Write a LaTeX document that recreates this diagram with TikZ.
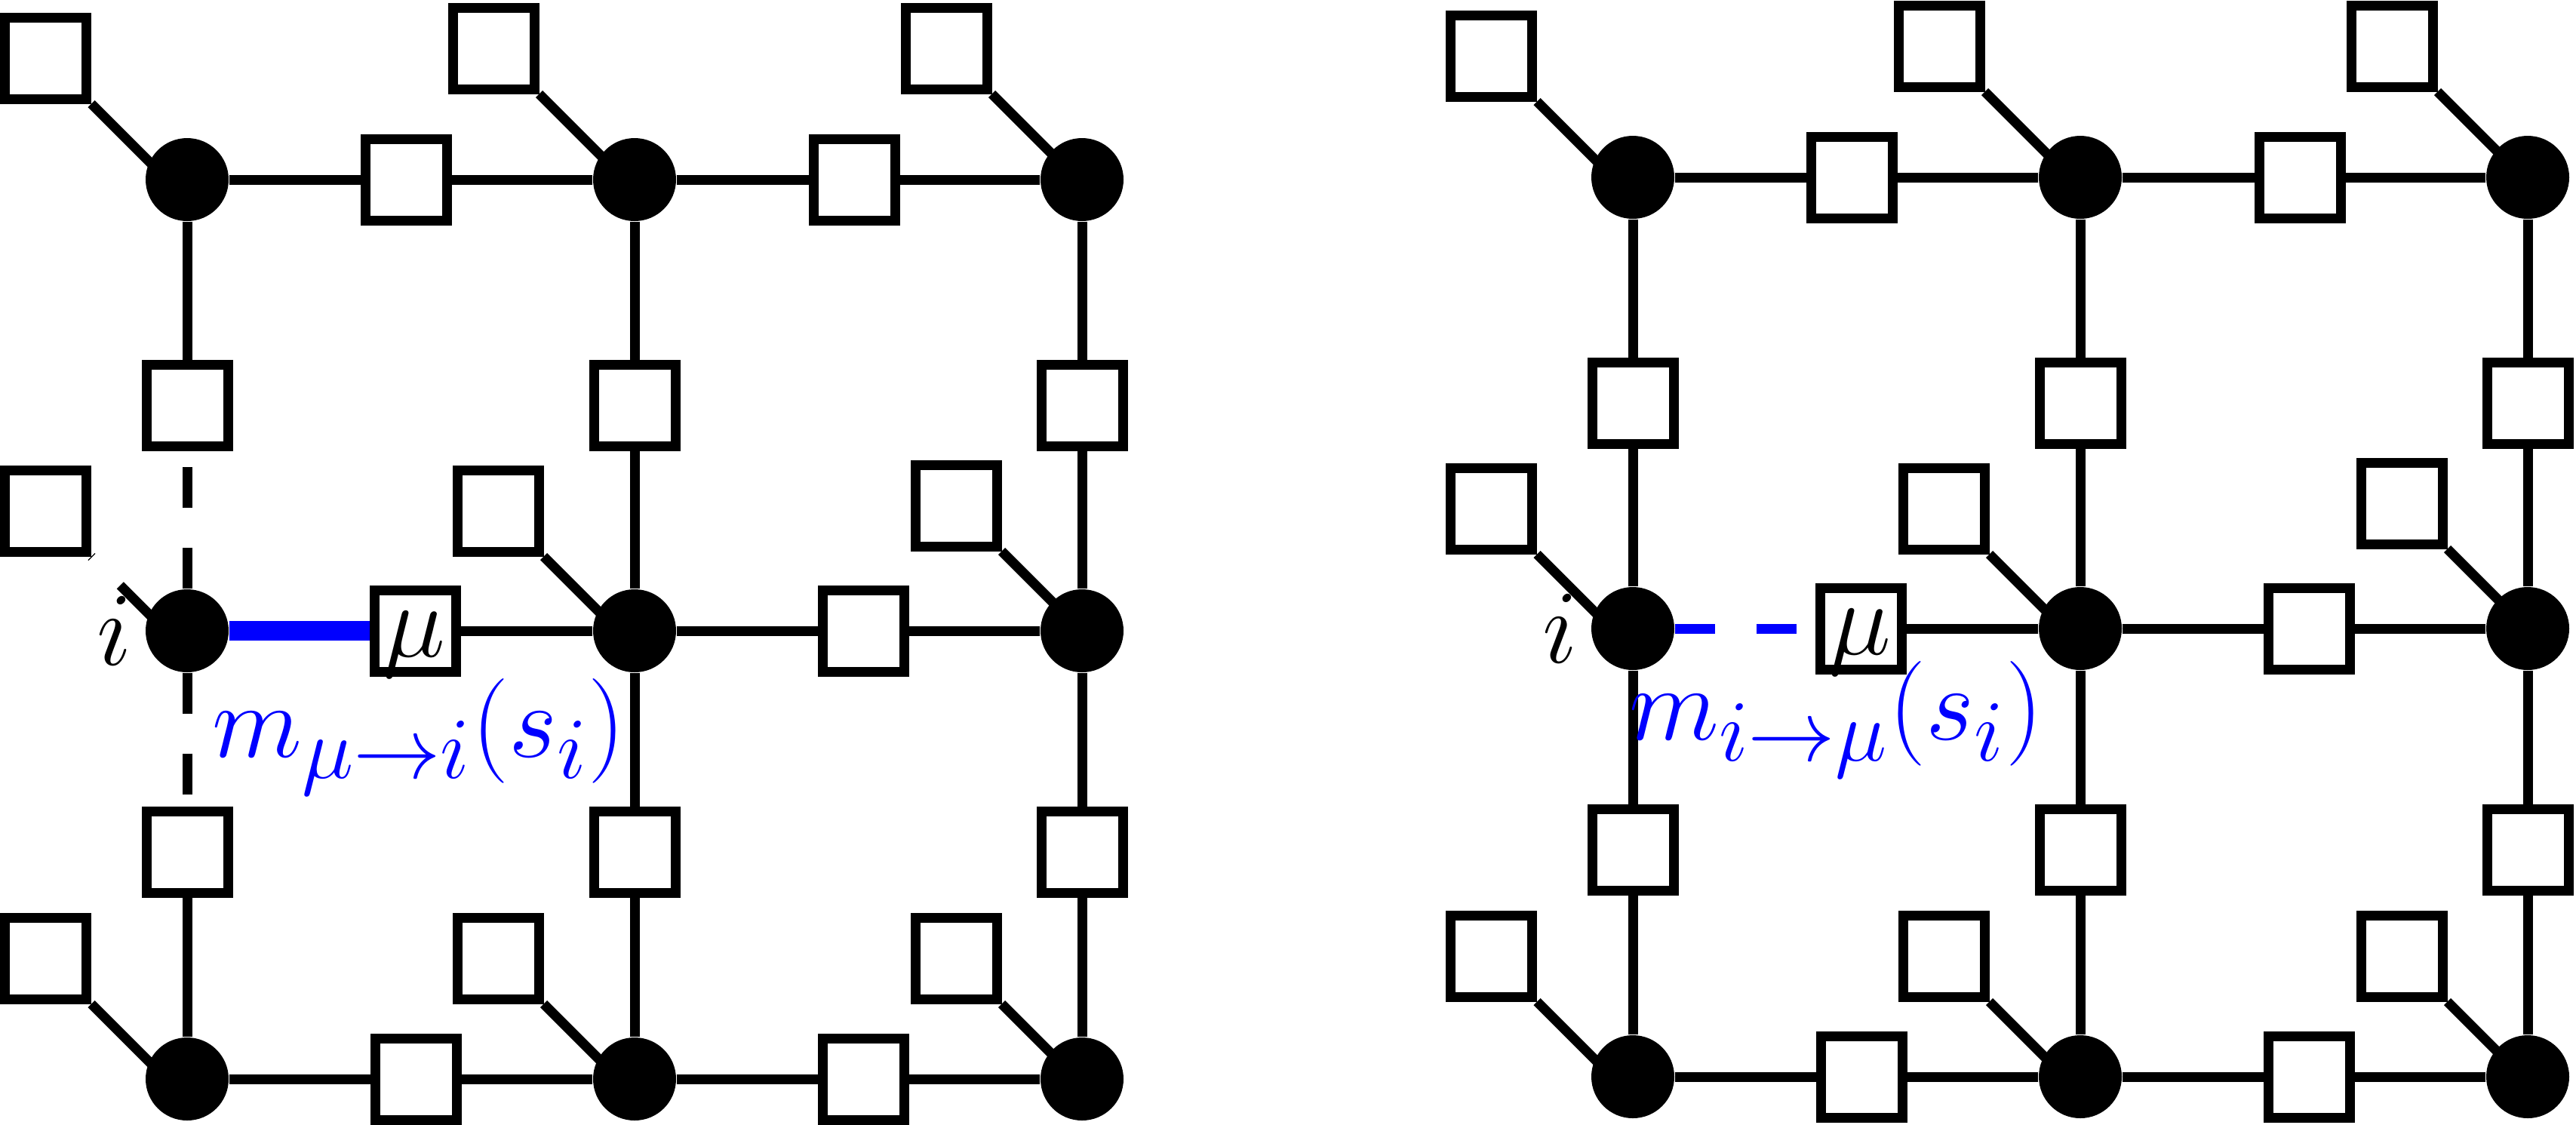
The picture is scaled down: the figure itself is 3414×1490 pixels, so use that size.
\documentclass[tikz,border=0pt]{standalone}
\usetikzlibrary{backgrounds,calc}
% pendant connector: from the lower right corner of a pendant factor,
% at 45 degrees, into the variable node (the end is hidden by the node)
\newcommand\pend[3][]{%
  \draw[edge,#1] (#2.south east) -- ($(#2.south east)!(#3)!($(#2.south east)+(10,10)$)$);}
\newcommand\latticepanel[1]{%
  % variable nodes
  \node[var] (#1c11) at (248,238) {};
  \node[var] (#1c12) at (841,238) {};
  \node[var] (#1c13) at (1434,238) {};
  \node[var] (#1c21) at (248,836) {};
  \node[var] (#1c22) at (841,836) {};
  \node[var] (#1c23) at (1434,836) {};
  \node[var] (#1c31) at (248,1430) {};
  \node[var] (#1c32) at (841,1430) {};
  \node[var] (#1c33) at (1434,1430) {};
  % horizontal factor nodes
  \node[fac] (#1h11) at (538.5,238) {};
  \node[fac] (#1h12) at (1132,238) {};
  \node[fac] (#1h21) at (550.5,836) {};
  \node[fac] (#1h22) at (1144,836) {};
  \node[fac] (#1h31) at (551,1430) {};
  \node[fac] (#1h32) at (1144,1430) {};
  % vertical factor nodes
  \node[fac] (#1v11) at (248,537) {};
  \node[fac] (#1v12) at (841,537) {};
  \node[fac] (#1v13) at (1434,537) {};
  \node[fac] (#1v21) at (248,1129) {};
  \node[fac] (#1v22) at (841,1129) {};
  \node[fac] (#1v23) at (1434,1129) {};
  % pendant factor nodes
  \node[fac] (#1p11) at (60.5,77) {};
  \node[fac] (#1p12) at (654,64) {};
  \node[fac] (#1p13) at (1254,64) {};
  \node[fac] (#1p21) at (60.5,677) {};
  \node[fac] (#1p22) at (660,677) {};
  \node[fac] (#1p23) at (1267,670) {};
  \node[fac] (#1p31) at (60.5,1270) {};
  \node[fac] (#1p32) at (660,1270) {};
  \node[fac] (#1p33) at (1267,1270) {};
  % labels
  \node[lbl] (#1li) at (127,881) {$i$};
  \node[lbl] (#1lmu) at (507,870) {$\mu$};
  % common edges
  \begin{pgfonlayer}{background}
    \draw[edge] (#1c11) -- (#1h11) -- (#1c12) -- (#1h12) -- (#1c13);
    \draw[edge] (#1h21) -- (#1c22);
    \draw[edge] (#1c22) -- (#1h22) -- (#1c23);
    \draw[edge] (#1c31) -- (#1h31) -- (#1c32) -- (#1h32) -- (#1c33);
    \draw[edge] (#1c11) -- (#1v11);
    \draw[edge] (#1c12) -- (#1v12) -- (#1c22) -- (#1v22) -- (#1c32);
    \draw[edge] (#1c13) -- (#1v13) -- (#1c23) -- (#1v23) -- (#1c33);
    \draw[edge] (#1v21) -- (#1c31);
    \pend{#1p11}{#1c11}
    \pend{#1p12}{#1c12}
    \pend{#1p13}{#1c13}
    \pend{#1p22}{#1c22}
    \pend{#1p23}{#1c23}
    \pend{#1p31}{#1c31}
    \pend{#1p32}{#1c32}
    \pend{#1p33}{#1c33}
  \end{pgfonlayer}%
}
\begin{document}
\begin{tikzpicture}[x=0.1mm,y=-0.1mm,
  var/.style={circle,fill=black,draw=none,inner sep=0pt,minimum size=11mm},
  fac/.style={rectangle,draw=black,fill=white,line width=1.3mm,inner sep=0pt,minimum size=10.8mm},
  edge/.style={line width=1.3mm,draw=black},
  dashededge/.style={edge,dash pattern=on 5.4mm off 5.3mm},
  lbl/.style={inner sep=0pt,anchor=base west,font=\Huge,scale=1.5876},
  msg/.style={lbl,text=blue},
]
\useasboundingbox (0,0) rectangle (3414,1490);

% ---- left panel: message factor -> variable
\latticepanel{L}
\node[msg] (Lmsg) at (280,1003) {$m_{\mu\to i}(s_i)$};
\begin{pgfonlayer}{background}
  \draw[edge,draw=blue,line width=2.6mm] (Lc21) -- (Lh21);
  \draw[dashededge] (Lc21) -- (Lv11);
  \draw[dashededge] (Lc21) -- (Lv21);
  \draw[edge,dash pattern=on 10.52mm off 5.3mm on 5.4mm off 5.3mm]
    ($(Lp21.south east)!(Lc21)!($(Lp21.south east)+(10,10)$)$) -- (Lp21.south east);
\end{pgfonlayer}

% ---- right panel: message variable -> factor
\begin{scope}[shift={(1916,-3)}]
\latticepanel{R}
\node[msg] (Rmsg) at (242,983) {$m_{i\to\mu}(s_i)$};
\begin{pgfonlayer}{background}
  \draw[edge,draw=blue,dash pattern=on 5.3mm off 5.5mm] (Rc21) -- (Rh21);
  \draw[edge] (Rc21) -- (Rv11);
  \draw[edge] (Rc21) -- (Rv21);
  \pend{Rp21}{Rc21}
\end{pgfonlayer}
\end{scope}
\end{tikzpicture}
\end{document}
